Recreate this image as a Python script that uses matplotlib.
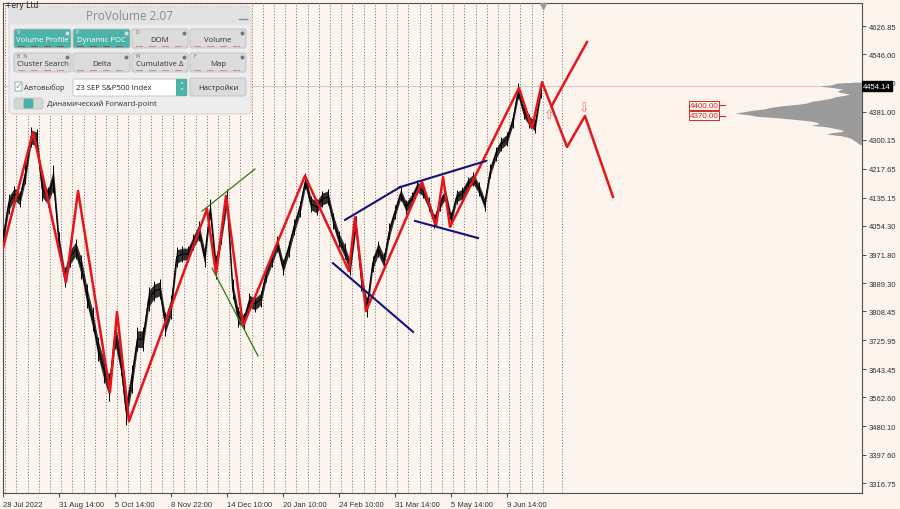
import numpy as np
import matplotlib
matplotlib.use("Agg")
import matplotlib.pyplot as plt
from matplotlib.patches import FancyBboxPatch, Rectangle
import matplotlib.transforms as mtransforms

# --- data (x in weeks from 28 Jul 2022, y in index points) ---
close_step = 0.5
closes = [4016, 4117, 4145, 4131, 4203, 4309, 4303, 4160, 4137, 4188,
          4002, 3907, 3965, 3988, 3936, 3853, 3787, 3701, 3643, 3592,
          3744, 3666, 3523, 3615, 3729, 3729, 3844, 3867, 3873, 3772,
          3821, 3965, 3973, 3973, 4008, 4039, 3965, 4102, 3936, 4031,
          4131, 3873, 3793, 3781, 3838, 3830, 3844, 3916, 3959, 4002,
          3936, 3988, 4051, 4102, 4182, 4117, 4108, 4131, 4137, 4068,
          4016, 3982, 3936, 4059, 3896, 3821, 3945, 3988, 3953, 4039,
          4094, 4145, 4108, 4131, 4165, 4154, 4117, 4068, 4117, 4145,
          4073, 4137, 4145, 4174, 4188, 4160, 4117, 4211, 4260, 4289,
          4303, 4354, 4440, 4383, 4354, 4340, 4440]
# half of the bar range around each sample
half_range = [20, 20, 17, 17, 20, 20, 20, 24, 20, 28,
              24, 20, 20, 20, 24, 24, 24, 24, 28, 28,
              30, 28, 28, 28, 24, 24, 24, 20, 20, 24,
              24, 20, 17, 17, 17, 20, 20, 20, 24, 20,
              20, 20, 20, 17, 17, 17, 17, 17, 17, 17,
              17, 17, 17, 17, 17, 17, 17, 17, 17, 17,
              17, 17, 17, 17, 20, 20, 17, 17, 17, 17,
              14, 14, 14, 14, 14, 14, 14, 14, 14, 14,
              14, 14, 14, 14, 14, 14, 14, 14, 14, 14,
              14, 14, 17, 17, 14, 14, 14]

zz_w = [-0.09, 2.68, 5.63, 6.70, 9.55, 10.18, 11.25, 18.21, 19.02, 19.91,
        21.43, 26.96, 30.89, 31.43, 32.41, 37.41, 38.66, 39.29, 39.91,
        46.07, 47.23, 48.13, 50.36, 51.96, 54.46]
zz_p = [3979, 4323, 3893, 4154, 3578, 3807, 3494, 4102, 3916, 4140,
        3767, 4197, 3924, 4079, 3810, 4180, 4054, 4194, 4051,
        4449, 4334, 4466, 4280, 4369, 4137]
alt_w = [49.02, 52.14]
alt_p = [4400, 4581]

green_lines = [([17.77, 22.50], [4096, 4217]),
               ([18.66, 22.77], [3933, 3681])]
navy_lines = [([30.54, 35.45], [4071, 4165]),
              ([35.45, 43.13], [4165, 4240]),
              ([36.79, 42.41], [4068, 4019]),
              ([29.46, 36.61], [3947, 3750])]

arrow_up = (48.75, 4372)
arrow_dn = (51.88, 4392)
level_prices = [4400.00, 4370.00]
last_price = 4454.14

vp_levels = [4466, 4463, 4458, 4455, 4450, 4446, 4441, 4437, 4432, 4429, 4424,
             4420, 4415, 4411, 4406, 4403, 4398, 4394, 4389, 4385, 4381,
             4377, 4372, 4368, 4364, 4360, 4355, 4351, 4347, 4342, 4338,
             4334, 4329, 4325, 4321, 4317, 4312, 4308, 4304, 4299, 4295, 4291, 4287]
vp_volume = [6, 25, 30, 42, 28, 19, 24, 22, 12, 15, 26,
             30, 40, 50, 55, 62, 80, 90, 98, 110, 118,
             127, 112, 105, 85, 70, 52, 45, 42, 50, 35,
             28, 20, 18, 30, 35, 20, 14, 10, 8, 5, 4, 1]

yticks = [4626.85, 4546.00, 4463.50, 4381.00, 4300.15, 4217.65, 4135.15,
          4054.30, 3971.80, 3889.30, 3808.45, 3725.95, 3643.45, 3562.60,
          3480.10, 3397.60, 3316.75]
xtick_w = [0, 5, 10, 15, 20, 25, 30, 35, 40, 45]
xtick_lbl = ["28 Jul 2022", "31 Aug 14:00", "5 Oct 14:00", "8 Nov 22:00",
             "14 Dec 10:00", "20 Jan 10:00", "24 Feb 10:00", "31 Mar 14:00",
             "5 May 14:00", "9 Jun 14:00"]

BG = "#fdf4ee"
RED = "#e8141b"
TICKFONT = "Liberation Sans"

fig = plt.figure(figsize=(9, 5.1), dpi=100, facecolor=BG)
ax = fig.add_axes([2.5 / 900, 16 / 510, 859 / 900, 490 / 510], facecolor=BG)
ax.set_xlim(-0.045, 76.65)
ax.set_ylim(3288.1, 4692.8)

# weekly separators
sep = list(np.arange(49) + 0.19) + [49.9]
ax.vlines(sep, 3288.1, 4692.8, colors="#858585", linestyles=(0, (1.2, 1.8)),
          lw=0.7, zorder=1)
ax.axhline(last_price, color="#d4cbc6", lw=0.8, zorder=1)

# price bars drawn as a jagged black band
xw = np.arange(len(closes)) * close_step
c = np.array(closes, dtype=float)
r = np.array(half_range, dtype=float)
ax.fill_between(xw, c - r, c + r, color="black", lw=0, alpha=0.8, zorder=3)
ax.vlines(xw, c - 1.4 * r, c + 1.4 * r, color="black", lw=0.7, zorder=3)
ax.plot(xw, closes, color="black", lw=0.8, zorder=3)

# zigzag + trend lines
ax.plot(zz_w, zz_p, color=RED, lw=1.8, zorder=4)
ax.plot(alt_w, alt_p, color=RED, lw=1.8, zorder=4)
for xs, ys in green_lines:
    ax.plot(xs, ys, color="#2b7a1a", lw=0.9, zorder=4)
for xs, ys in navy_lines:
    ax.plot(xs, ys, color="#12127a", lw=1.5, zorder=4)

ax.text(*arrow_up, "\u21e7", color="#ec7070", fontsize=9, ha="center", va="center", zorder=5)
ax.text(*arrow_dn, "\u21e9", color="#ec7070", fontsize=9, ha="center", va="center", zorder=5)

for lv in level_prices:
    ax.text(61.3, lv, "%.2f" % lv, color="#d42a2a", fontsize=5.8, ha="left", va="center",
            family=TICKFONT,
            bbox=dict(boxstyle="square,pad=0.12", fc=BG, ec="#d42a2a", lw=0.7), zorder=5)
    ax.plot([63.9, 64.5], [lv, lv], color="#d42a2a", lw=0.8, zorder=5)

# volume profile anchored to right edge
axv = ax.twiny()
axv.set_xlim(859, 0)
axv.fill_betweenx(vp_levels, 0, vp_volume, color="#9b9b9b", lw=0, zorder=2)
axv.axis("off")

# axes styling
for s in ax.spines.values():
    s.set_color("#505050")
    s.set_linewidth(0.8)
ax.yaxis.tick_right()
ax.set_yticks(yticks)
ax.set_yticklabels(["%.2f" % v for v in yticks], family=TICKFONT)
ax.set_xticks(xtick_w)
ax.set_xticklabels(xtick_lbl, family=TICKFONT)
for lbl in ax.get_xticklabels():
    lbl.set_ha("left")
ax.tick_params(axis="both", labelsize=5.5, colors="#333333", length=3, width=0.6, pad=2.5)

trans = mtransforms.blended_transform_factory(ax.transAxes, ax.transData)
ax.text(1.002, last_price, "%.2f" % last_price, transform=trans, color="white", fontsize=5.5,
        family=TICKFONT, ha="left", va="center", clip_on=False,
        bbox=dict(boxstyle="square,pad=0.2", fc="black", ec="black"), zorder=6)
ax.plot([48.2], [4685], marker="v", color="#9a9a9a", ms=4, clip_on=False, zorder=5)

# --- ProVolume panel overlay (pixel coordinates) ---
ui = fig.add_axes([0, 0, 1, 1], facecolor="none")
ui.set_xlim(0, 900)
ui.set_ylim(510, 0)
ui.axis("off")
ui.text(5, 5, "+ery Ltd", fontsize=5.5, color="#222222", va="center")

PF = "Open Sans"


def box(x0, y0, x1, y1, fc, ec="#c8c8c8", r=2.0, lw=0.6):
    ui.add_patch(FancyBboxPatch((x0, y0), x1 - x0, y1 - y0,
                                boxstyle="round,pad=0,rounding_size=%g" % r,
                                fc=fc, ec=ec, lw=lw))


box(9, 7, 251, 115, "#ededed", ec="#d0d0d0", r=4)
box(9, 7, 251, 25, "#e2e2e2", ec="#e2e2e2", r=4)
ui.text(130, 16, "ProVolume 2.07", fontsize=8.5, color="#8c8c8c", ha="center", va="center",
        family=PF)
ui.plot([239, 247], [20, 20], color="#8c8c8c", lw=1)

teal = "#4db3aa"
row1 = [(14, 71, "Volume Profile", True, "V"), (73, 130, "Dynamic POC", True, "P"),
        (132, 188, "DOM", False, "D"), (190, 246, "Volume", False, "")]
row2 = [(14, 71, "Cluster Search", False, "B  N"), (73, 130, "Delta", False, ""),
        (132, 188, "Cumulative \u0394", False, "M"), (190, 246, "Map", False, "F")]
for y0, y1, row in [(30, 49, row1), (54, 73, row2)]:
    for x0, x1, name, on, key in row:
        box(x0, y0, x1, y1, teal if on else "#dcdcdc", ec="#bdbdbd")
        ui.text((x0 + x1) / 2, (y0 + y1) / 2 + 1, name, fontsize=5.6,
                color="white" if on else "#333333", ha="center", va="center", family=PF)
        if key:
            ui.text(x0 + 3, y0 + 3, key, fontsize=3.5, color="#e8f5f3" if on else "#777777",
                    va="center")
        ui.plot([x1 - 4], [y0 + 3.5], marker="o", ms=1.8, color="#777777" if not on else "#dddddd")
        for i in range(4):
            ui.plot([x0 + 4 + i * 13, x0 + 10 + i * 13], [y1 - 2.5, y1 - 2.5],
                    color="#a04040" if on else "#d08080", lw=0.6)

box(15, 83, 22, 92, "white", ec="#999999", r=0.5)
ui.text(18.5, 86.5, "\u2713", fontsize=7, color=teal, ha="center", va="center")
ui.text(24, 88, "Автовыбор", fontsize=5.4, color="#333333", va="center", family=PF)
box(73, 80, 187, 97, "white", ec="#c0c0c0", r=1.5)
ui.add_patch(Rectangle((176, 80), 11, 17, fc=teal, ec="none"))
ui.text(181.5, 86, "\u02c4", fontsize=6, color="white", ha="center", va="center")
ui.text(181.5, 92, "\u02c5", fontsize=6, color="white", ha="center", va="center")
ui.text(76, 88.5, "23 SEP S&P500 Index", fontsize=5.6, color="#222222", va="center",
        family=PF)
box(190, 79, 246, 97, "#dcdcdc", ec="#bdbdbd")
ui.text(218, 88, "Настройки", fontsize=5.6, color="#333333", ha="center", va="center",
        family=PF)
box(14, 99, 43, 110, "#d6d6d6", ec="#c4c4c4", r=3)
box(24, 100, 33, 109, teal, ec=teal, r=1)
ui.text(47, 104.5, "Динамический Forward-point", fontsize=5.6, color="#333333", va="center",
        family=PF)

fig.savefig("out.png", dpi=100, facecolor=BG)
